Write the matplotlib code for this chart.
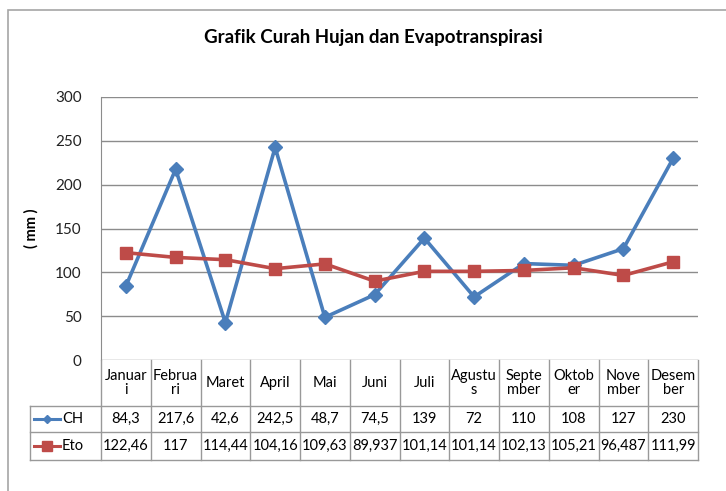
import matplotlib.pyplot as plt
import matplotlib.patches as mpatches
import numpy as np

plt.rcParams['font.family'] = ['Lato', 'DejaVu Sans']

months = ['Januar\ni', 'Februa\nri', 'Maret', 'April', 'Mai', 'Juni', 'Juli',
          'Agustu\ns', 'Septe\nmber', 'Oktob\ner', 'Nove\nmber', 'Desem\nber']
ch = [84.3, 217.6, 42.6, 242.5, 48.7, 74.5, 139, 72, 110, 108, 127, 230]
eto = [122.46, 117, 114.44, 104.16, 109.63, 89.937, 101.14, 101.14, 102.13, 105.21, 96.487, 111.99]
series_names = ['CH', 'Eto']
yticks = [0, 50, 100, 150, 200, 250, 300]

blue = '#4a7ebb'
red = '#be4b48'
grid = '#8c8c8c'

W, H = 726, 491
fig = plt.figure(figsize=(W / 100, H / 100), dpi=100)

# outer chart frame
fig.patches.append(mpatches.Rectangle((8 / W, -0.1), 1.2, 1 - 10 / H + 0.1,
                                      transform=fig.transFigure, fill=False,
                                      edgecolor='#a6a6a6', linewidth=1.2))

left, right, top, bottom = 101, 698, 97, 360
ax = fig.add_axes([left / W, 1 - bottom / H, (right - left) / W, (bottom - top) / H])
x = np.arange(len(months))
ax.set_xlim(-0.5, len(months) - 0.5)
ax.set_ylim(0, 300)
ax.set_yticks(yticks)
ax.set_xticks([])
ax.yaxis.grid(True, color=grid, linewidth=1)
ax.set_axisbelow(True)
for s in ['top', 'right', 'bottom']:
    ax.spines[s].set_visible(False)
ax.spines['left'].set_color(grid)
ax.tick_params(axis='y', length=0, pad=14, labelsize=11, labelcolor='#222222')
ax.set_ylabel('( mm )', fontsize=10.5, fontweight='bold', labelpad=12)

ax.plot(x, ch, color=blue, linewidth=2.6, marker='D', markersize=7, zorder=3)
ax.plot(x, eto, color=red, linewidth=2.6, marker='s', markersize=9, zorder=3)

fig.text(373 / W, 1 - 37 / H, 'Grafik Curah Hujan dan Evapotranspirasi',
         ha='center', va='center', fontsize=13.5, fontweight='bold')

# data table below the plot
tb = 460
tax = fig.add_axes([left / W, 1 - tb / H, (right - left) / W, (tb - bottom) / H])
tax.set_xlim(-0.5, len(months) - 0.5)
tax.set_ylim(tb - bottom, 0)
tax.axis('off')
colw = (right - left) / len(months)
def px2x(px):
    return (px - left) / colw - 0.5

r1, r2, r3 = 46, 72, 100
lx0 = px2x(30)
lc = '#999999'
kw = dict(color=lc, linewidth=1, clip_on=False)
for xv in np.arange(len(months) + 1) - 0.5:
    tax.plot([xv, xv], [0, r3], **kw)
tax.plot([lx0, lx0], [r1, r3], **kw)
for yv in [r1, r2, r3]:
    tax.plot([lx0, len(months) - 0.5], [yv, yv], **kw)

def fmt(v):
    s = ('%g' % v)
    return s.replace('.', ',')

fs = 10.5
for i, m in enumerate(months):
    tax.text(i, r1 / 2, m, ha='center', va='center', fontsize=fs, linespacing=1.05)
    tax.text(i, (r1 + r2) / 2, fmt(ch[i]), ha='center', va='center', fontsize=fs)
    tax.text(i, (r2 + r3) / 2, fmt(eto[i]), ha='center', va='center', fontsize=fs)

for name, col, mk, ms, yc in [(series_names[0], blue, 'D', 4, (r1 + r2) / 2),
                              (series_names[1], red, 's', 7, (r2 + r3) / 2)]:
    tax.plot([px2x(34), px2x(60)], [yc, yc], color=col, linewidth=2.2, clip_on=False)
    tax.plot([px2x(47)], [yc], color=col, marker=mk, markersize=ms, clip_on=False)
    tax.text(px2x(62), yc, name, ha='left', va='center', fontsize=fs)

fig.savefig('out.png', dpi=100)
